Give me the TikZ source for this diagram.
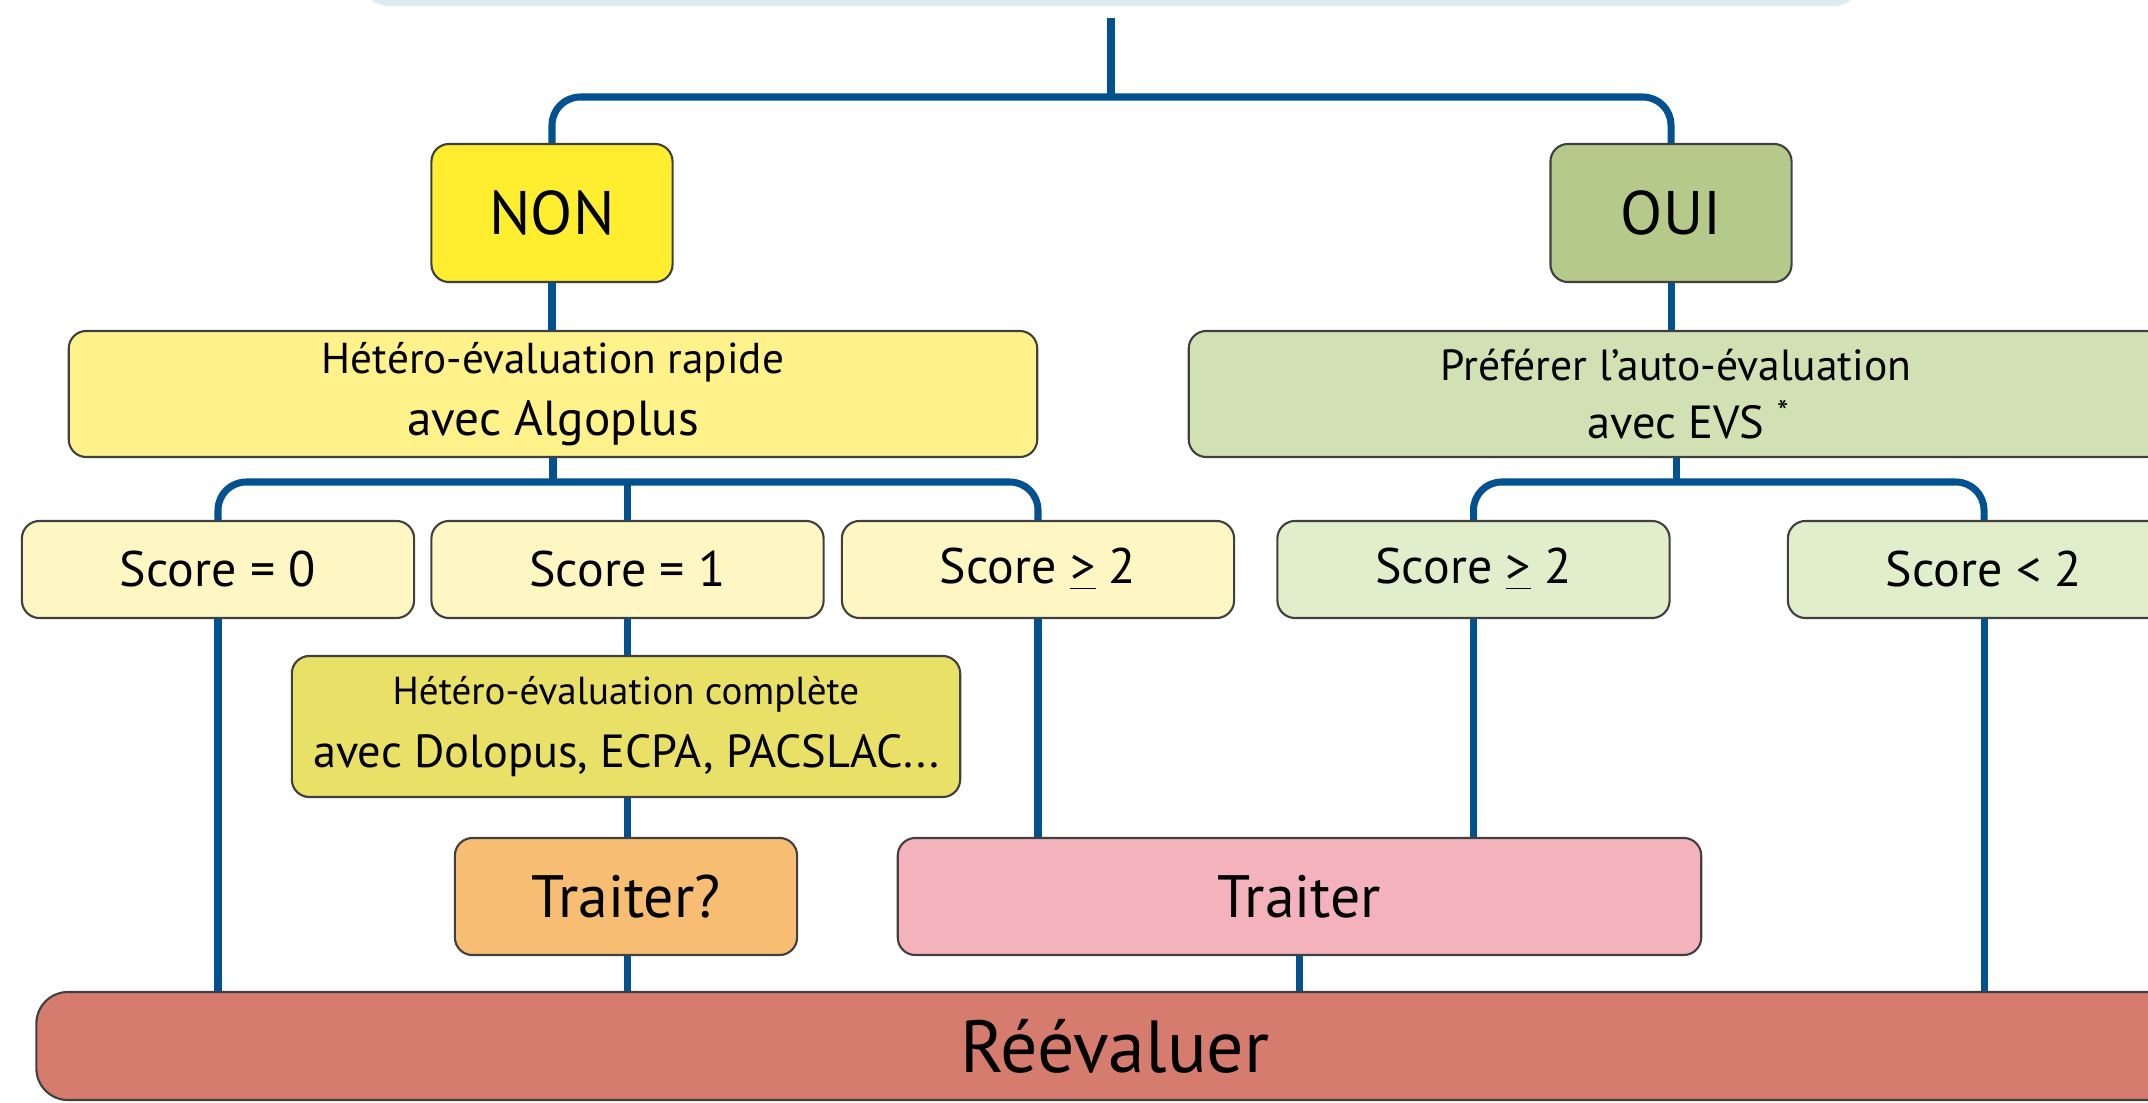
\documentclass[tikz,border=0pt]{standalone}
\usepackage{fontspec}
\setmainfont{PT Sans}
\definecolor{linkblue}{HTML}{03518E}
\definecolor{topblue}{HTML}{DDEBF0}
\definecolor{nonyellow}{HTML}{FFEE30}
\definecolor{ouigreen}{HTML}{B4C98A}
\definecolor{rapidyellow}{HTML}{FFF28A}
\definecolor{autogreen}{HTML}{D2E1B3}
\definecolor{scoreyellow}{HTML}{FFF7C3}
\definecolor{scoregreen}{HTML}{E1EECC}
\definecolor{fullyellow}{HTML}{E9E068}
\definecolor{maybeorange}{HTML}{F7BD72}
\definecolor{treatpink}{HTML}{F4B3BC}
\definecolor{redo}{HTML}{D67C6E}
\begin{document}
\begin{tikzpicture}[x=0.01cm, y=-0.01cm]
	\tikzstyle{box}  = [rectangle, rounded corners=5pt, draw=black!75, line width=0.6pt, inner sep=2pt, align=center]
	\tikzstyle{link} = [draw=linkblue, line width=2pt]

	\useasboundingbox (0,0) rectangle (2148,1103);
	\clip (0,0) rectangle (2148,1103);

	% top of the tree, cut by the frame
	\node[box, draw=none, fill=topblue, rounded corners=8pt, minimum width=15cm, minimum height=1.2cm] (top) at (1111,-54) {};

	\node[box, fill=nonyellow, minimum width=2.41cm, minimum height=1.38cm, font=\fontsize{17.5}{20}\selectfont] (non) at (552,213) {NON};
	\node[box, fill=ouigreen, minimum width=2.41cm, minimum height=1.38cm, font=\fontsize{17.5}{20}\selectfont] (oui) at (1671,213) {OUI};

	\node[box, fill=rapidyellow, minimum width=9.68cm, minimum height=1.26cm, font=\fontsize{12.3}{17.5}\selectfont] (rapid) at (553,394) {Hétéro-évaluation rapide\\{\fontsize{14}{17.5}\selectfont avec Algoplus}};
	\node[box, fill=autogreen, minimum width=9.74cm, minimum height=1.26cm, font=\fontsize{12.4}{16.5}\selectfont] (auto) at (1676,394) {Préférer l'auto-évaluation\\{\fontsize{13.2}{16.5}\selectfont avec EVS\rlap{\ \textsuperscript{*}}}};

	\foreach \name/\x/\col/\txt in {s0/218/scoreyellow/{Score = 0}, s1/627.5/scoreyellow/{Score = 1}, s2/1038/scoreyellow/{Score \underline{>} 2}, g2/1473.5/scoregreen/{Score \underline{>} 2}, g1/1984/scoregreen/{Score < 2}}
		\node[box, fill=\col, minimum width=3.92cm, minimum height=0.97cm, font=\fontsize{14.2}{16}\selectfont] (\name) at (\x,569.5) {\txt};

	\node[box, fill=fullyellow, minimum width=6.68cm, minimum height=1.41cm, font=\fontsize{11.1}{18}\selectfont] (full) at (626,726.5) {Hétéro-évaluation complète\\{\fontsize{13.2}{18}\selectfont avec Dolopus, ECPA, PACSLAC...}};
	\node[box, fill=maybeorange, minimum width=3.42cm, minimum height=1.17cm, font=\fontsize{17}{20}\selectfont] (maybe) at (626,896.5) {Traiter?};
	\node[box, fill=treatpink, minimum width=8.03cm, minimum height=1.17cm, font=\fontsize{17}{20}\selectfont] (treat) at (1299.5,896.5) {Traiter};
	\node[box, fill=redo, rounded corners=9pt, minimum width=21.56cm, minimum height=1.08cm, font=\fontsize{21}{24}\selectfont] (redo) at (1115,1046) {Réévaluer};

	% branches
	\coordinate (j1) at (1111,97);
	\coordinate (j2) at (553,482);
	\coordinate (j3) at (1676,482);
	\draw[link, shorten <=3pt] (top.south) -- (j1);
	\draw[link, rounded corners=8pt] (non.north) |- (j1) -| (oui.north);
	\draw[link] (non.south) -- (non.south |- rapid.north);
	\draw[link] (oui.south) -- (oui.south |- auto.north);
	\draw[link] (rapid.south) -- (j2);
	\draw[link, rounded corners=8pt] (s0.north) |- (j2) -| (s2.north);
	\draw[link] (s1.north) -- (s1.north |- j2);
	\draw[link] (auto.south) -- (j3);
	\draw[link, rounded corners=8pt] (g2.north) |- (j3) -| (g1.north);

	% down to the end
	\draw[link] (s0.south) -- (s0.south |- redo.north);
	\draw[link] (s1.south) -- (s1.south |- full.north);
	\draw[link] (full.south -| s1) -- (maybe.north -| s1);
	\draw[link] (maybe.south -| s1) -- (redo.north -| s1);
	\draw[link] (s2.south) -- (s2.south |- treat.north);
	\draw[link] (g2.south) -- (g2.south |- treat.north);
	\draw[link] (treat.south) -- (treat.south |- redo.north);
	\draw[link] (g1.south) -- (g1.south |- redo.north);
\end{tikzpicture}
\end{document}
